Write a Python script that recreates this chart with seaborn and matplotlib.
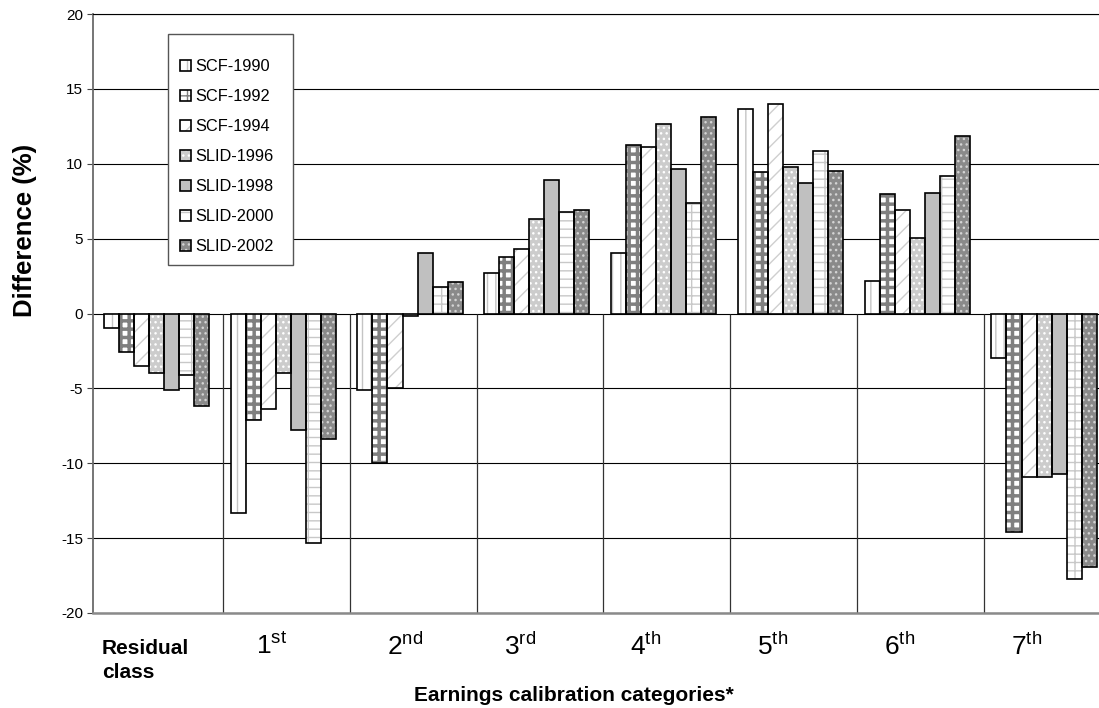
import matplotlib
matplotlib.use("Agg")
import matplotlib.pyplot as plt
from matplotlib.patches import Rectangle
from matplotlib.legend_handler import HandlerTuple
import matplotlib.transforms as mtrans
import seaborn as sns
import pandas as pd

# ---------------- data ----------------
categories = ["Residual class", "1st", "2nd", "3rd", "4th", "5th", "6th", "7th"]
series = ["SCF-1990", "SCF-1992", "SCF-1994", "SLID-1996", "SLID-1998", "SLID-2000", "SLID-2002"]

scf_1990 = [-1.0, -13.3, -5.1, 2.7, 4.05, 13.65, 2.2, -3.0]
scf_1992 = [-2.6, -7.1, -9.95, 3.8, 11.25, 9.45, 8.0, -14.6]
scf_1994 = [-3.5, -6.4, -4.95, 4.3, 11.1, 14.0, 6.9, -10.9]
slid_1996 = [-4.0, -4.0, -0.2, 6.3, 12.65, 9.8, 5.05, -10.9]
slid_1998 = [-5.1, -7.8, 4.05, 8.9, 9.65, 8.7, 8.05, -10.75]
slid_2000 = [-4.1, -15.3, 1.8, 6.8, 7.35, 10.85, 9.15, -17.7]
slid_2002 = [-6.2, -8.4, 2.1, 6.9, 13.15, 9.5, 11.85, -16.95]

tick_main = ["1", "2", "3", "4", "5", "6", "7"]
tick_sup = ["st", "nd", "rd", "th", "th", "th", "th"]
y_ticks = [-20, -15, -10, -5, 0, 5, 10, 15, 20]

values = [scf_1990, scf_1992, scf_1994, slid_1996, slid_1998, slid_2000, slid_2002]
rows = []
for s, vals in zip(series, values):
    for c, v in zip(categories, vals):
        rows.append({"category": c, "series": s, "value": v})
df = pd.DataFrame(rows)

# ---------------- styles ----------------
styles = [
    # facecolor, hatch, hatch colour, hatch linewidth
    ("white", "||", "#c4c4c4", 1.0),
    ("white", "++", "#808080", 2.5),
    ("white", "//", "#cfcfcf", 1.0),
    ("#cccccc", "...", "white", 1.0),
    ("#c0c0c0", None, "#c0c0c0", 1.0),
    ("white", "--|", "#c8c8c8", 1.0),
    ("#8a8a8a", "...", "#d4d4d4", 1.0),
]

sns.set_theme(style="white")
plt.rcParams["font.family"] = ["Liberation Sans", "DejaVu Sans"]
plt.rcParams["hatch.linewidth"] = 1.0
for key in ["text.color", "axes.labelcolor", "xtick.color", "ytick.color"]:
    plt.rcParams[key] = "black"

fig = plt.figure(figsize=(10.99, 7.08), dpi=100)
ax_left, ax_right, ax_top, ax_bot = 93, 1099, 14, 613
W, H = ax_right - ax_left, ax_bot - ax_top
ax = fig.add_axes([ax_left / 1099, (708 - ax_bot) / 708, W / 1099, H / 708])

sns.barplot(data=df, x="category", y="value", hue="series",
            order=categories, hue_order=series, width=0.83, gap=0,
            palette=["white"] * 7, saturation=1, legend=False,
            errorbar=None, ax=ax, zorder=3)

handles = []
for cont, (fc, hatch, hc, hlw) in zip(ax.containers, styles):
    first = None
    for bar in cont:
        bar.set_facecolor(fc)
        bar.set_hatch(hatch)
        bar.set_edgecolor(hc)
        bar.set_linewidth(0)
        if hasattr(bar, "set_hatch_linewidth"):
            bar.set_hatch_linewidth(hlw)
        outline = Rectangle(bar.get_xy(), bar.get_width(), bar.get_height(),
                            fill=False, edgecolor="black", linewidth=1.2, zorder=4)
        ax.add_patch(outline)
        if first is None:
            first = (bar, outline)
    handles.append(first)

# axes limits & grid
ax.set_xlim(-0.5, 7.433)
ax.set_ylim(-20, 20)
ax.set_yticks(y_ticks)
ax.set_yticklabels([str(t) for t in y_ticks], fontsize=11)
ax.yaxis.grid(True, color="black", linewidth=0.8)
ax.xaxis.grid(False)
ax.set_axisbelow(True)
ax.tick_params(axis="y", direction="out", length=4, width=0.8, color="#444444",
               left=True, pad=3, labelcolor="black")
ax.tick_params(axis="x", length=0, labelbottom=False)

ax.spines["right"].set_visible(False)
ax.spines["top"].set_color("black")
ax.spines["top"].set_linewidth(0.8)
ax.spines["left"].set_color("#6a6a6a")
ax.spines["left"].set_linewidth(1.3)
ax.spines["bottom"].set_color("#8a8a8a")
ax.spines["bottom"].set_linewidth(1.8)

# category separators
ax.vlines([i + 0.525 for i in range(7)], -20, 0, color="#333333", linewidth=0.9, zorder=2)

# x labels
trans = mtrans.blended_transform_factory(ax.transData, ax.transAxes)
ax.text(-0.43, -0.079, "Residual\nclass", transform=trans, ha="left", va="center",
        fontsize=15, fontweight="bold", linespacing=1.3)
label_x = [0.91, 1.96, 2.87, 3.86, 4.86, 5.86, 6.86]
for x, m, s in zip(label_x, tick_main, tick_sup):
    ax.text(x, -0.055, m + r"$^{\mathregular{" + s + "}}$", transform=trans,
            ha="center", va="center", fontsize=19)

ax.set_xlabel("Earnings calibration categories*", fontsize=15, fontweight="bold")
ax.xaxis.set_label_coords((574 - ax_left) / W, -0.137)
ax.xaxis.label.set_va("center")
ax.set_ylabel("Difference (%)", fontsize=18.5, fontweight="bold")
ax.yaxis.set_label_coords((25 - ax_left) / W, 0.638)
ax.yaxis.label.set_va("center")

# legend box (drawn separately) + frameless legend
box = Rectangle(((168 - ax_left) / W, (ax_bot - 265) / H), (293 - 168) / W, (265 - 34) / H,
                transform=ax.transAxes, facecolor="white", edgecolor="#555555",
                linewidth=1.0, zorder=8)
ax.add_patch(box)
leg = ax.legend(handles, series, handler_map={tuple: HandlerTuple(ndivide=1)},
                loc="upper left",
                bbox_to_anchor=((180 - ax_left) / W, (ax_bot - 59) / H),
                borderaxespad=0, fontsize=11.8, handlelength=0.7, handleheight=0.7,
                handletextpad=0.25, labelspacing=0.92, borderpad=0,
                frameon=False)
leg.set_zorder(10)

fig.savefig("out.png", dpi=100)
